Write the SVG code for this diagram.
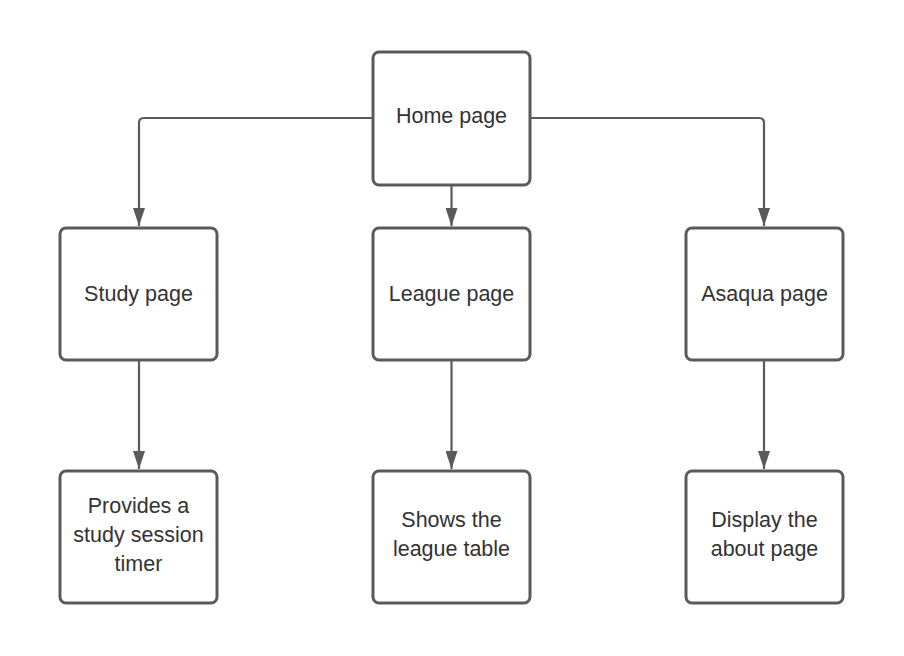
<svg xmlns="http://www.w3.org/2000/svg" width="904" height="656" viewBox="0 0 904 656">
<style>
.box{fill:#ffffff;stroke:#5a5a5a;stroke-width:3}
.lbl{font-family:"Liberation Sans",Arial,sans-serif;font-size:21.5px;fill:#333333;text-anchor:middle}
.edge{fill:none;stroke:#5a5a5a;stroke-width:2.2}
</style>
<defs>
<marker id="ah" viewBox="0 0 18 12" refX="18" refY="6" markerWidth="18" markerHeight="12" markerUnits="userSpaceOnUse" orient="auto">
<path d="M0,0 L18,6 L0,12 Z" fill="#5a5a5a"/>
</marker>
</defs>
<rect width="904" height="656" fill="#ffffff"/>
<g id="connectors">
<path class="edge" d="M373,118 H144 Q139,118 139,123 V226" marker-end="url(#ah)"/>
<path class="edge" d="M530,118 H759 Q764,118 764,123 V226" marker-end="url(#ah)"/>
<path class="edge" d="M451.5,185 V226" marker-end="url(#ah)"/>
<path class="edge" d="M139,360 V469" marker-end="url(#ah)"/>
<path class="edge" d="M451.5,360 V469" marker-end="url(#ah)"/>
<path class="edge" d="M764,360 V469" marker-end="url(#ah)"/>
</g>
<g id="home"><rect class="box" x="373" y="52" width="157" height="133" rx="6"/><text class="lbl" x="451.5" y="123">Home page</text></g>
<g id="study"><rect class="box" x="60" y="228" width="157" height="132" rx="6"/><text class="lbl" x="138.5" y="301">Study page</text></g>
<g id="league"><rect class="box" x="373" y="228" width="157" height="132" rx="6"/><text class="lbl" x="451.5" y="301">League page</text></g>
<g id="asaqua"><rect class="box" x="686" y="228" width="157" height="132" rx="6"/><text class="lbl" x="764.5" y="301">Asaqua page</text></g>
<g id="timer"><rect class="box" x="60" y="471" width="157" height="132" rx="6"/><text class="lbl" x="138.5" y="513">Provides a</text><text class="lbl" x="138.5" y="542">study session</text><text class="lbl" x="138.5" y="571">timer</text></g>
<g id="table"><rect class="box" x="373" y="471" width="157" height="132" rx="6"/><text class="lbl" x="451.5" y="527">Shows the</text><text class="lbl" x="451.5" y="556">league table</text></g>
<g id="about"><rect class="box" x="686" y="471" width="157" height="132" rx="6"/><text class="lbl" x="764.5" y="527">Display the</text><text class="lbl" x="764.5" y="556">about page</text></g>
</svg>
